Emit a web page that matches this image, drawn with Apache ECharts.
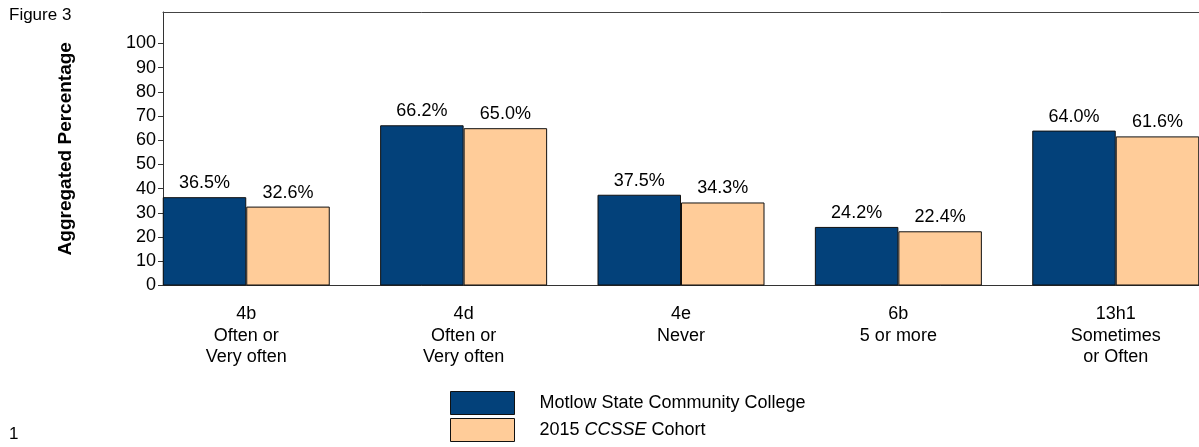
<!DOCTYPE html>
<html>
<head>
<meta charset="utf-8">
<script src="https://cdn.jsdelivr.net/npm/echarts@6/dist/echarts.min.js"></script>
<style>
  html, body { margin: 0; padding: 0; background: #fff; }
  #chart { width: 1199px; height: 447px; }
</style>
</head>
<body>
<div id="chart"></div>
<script>
const categories = ['4b\nOften or\nVery often', '4d\nOften or\nVery often', '4e\nNever', '6b\n5 or more', '13h1\nSometimes\nor Often'];
const collegeValues = [36.5, 66.2, 37.5, 24.2, 64.0];
const cohortValues = [32.6, 65.0, 34.3, 22.4, 61.6];
const yTickValues = [0, 10, 20, 30, 40, 50, 60, 70, 80, 90, 100];
const seriesNames = ['Motlow State Community College', '2015 CCSSE Cohort'];

const FONT = 'Liberation Sans, Arial, sans-serif';
const chart = echarts.init(document.getElementById('chart'));

const toPoints = vals => vals.map((v, i) => [i, v]);
const xIdx = categories.map((_, i) => i);

const option = {
  animation: false,
  backgroundColor: '#ffffff',
  textStyle: { fontFamily: FONT, color: '#000' },
  title: [
    { text: 'Figure 3', left: 4, top: 2, textStyle: { fontFamily: FONT, fontSize: 17, fontWeight: 'normal', color: '#000' } },
    { text: '1', left: 4, top: 421, textStyle: { fontFamily: FONT, fontSize: 17, fontWeight: 'normal', color: '#000' } }
  ],
  grid: { left: 163, right: -4, top: 12, height: 273.5 },
  xAxis: [
    {
      type: 'value', min: -0.383, max: 4.383, position: 'bottom',
      splitLine: { show: false },
      axisTick: { show: false },
      axisLine: { show: true, onZero: false, lineStyle: { color: '#333', width: 1 } },
      axisLabel: {
        customValues: xIdx,
        formatter: v => categories[Math.round(v)] || '',
        fontFamily: FONT, fontSize: 18, color: '#000', lineHeight: 21.5, margin: 18
      }
    },
    {
      type: 'value', min: -0.383, max: 4.383, position: 'top',
      splitLine: { show: false }, axisTick: { show: false }, axisLabel: { show: false },
      axisLine: { show: true, onZero: false, lineStyle: { color: '#444', width: 1 } }
    }
  ],
  yAxis: {
    type: 'value', min: 0, max: 113,
    name: 'Aggregated Percentage', nameLocation: 'middle', nameGap: 88,
    nameTextStyle: { fontFamily: FONT, fontSize: 19, fontWeight: 'bold', color: '#000' },
    splitLine: { show: false },
    axisLine: { show: true, onZero: false, lineStyle: { color: '#333', width: 1 } },
    axisTick: { show: true, customValues: yTickValues, length: 5, lineStyle: { color: '#333' } },
    axisLabel: { customValues: yTickValues, fontFamily: FONT, fontSize: 18, color: '#000', margin: 7 }
  },
  legend: {
    orient: 'vertical', left: 450, top: 391, itemWidth: 64, itemHeight: 23, itemGap: 3,
    padding: 0,
    icon: 'rect',
    data: seriesNames,
    itemStyle: { borderWidth: 1, borderColor: '#111' },
    formatter: n => n === '2015 CCSSE Cohort' ? '{n|2015 }{i|CCSSE}{n| Cohort}' : n,
    textStyle: {
      fontFamily: FONT, fontSize: 18, color: '#000', padding: [0, 0, 0, 20],
      rich: {
        n: { fontFamily: FONT, fontSize: 18, fontStyle: 'normal', color: '#000' },
        i: { fontFamily: FONT, fontSize: 18, fontStyle: 'italic', color: '#000' }
      }
    }
  },
  series: [
    {
      name: seriesNames[0], type: 'bar', data: toPoints(collegeValues),
      barWidth: 83.5, barGap: '0%',
      itemStyle: { color: '#03417A', borderColor: '#111', borderWidth: 1 },
      label: { show: true, position: 'top', distance: 5, formatter: p => p.value[1].toFixed(1) + '%', fontFamily: FONT, fontSize: 18, color: '#000' }
    },
    {
      name: seriesNames[1], type: 'bar', data: toPoints(cohortValues),
      barWidth: 83.5, barGap: '0%',
      itemStyle: { color: '#FFCC99', borderColor: '#111', borderWidth: 1 },
      label: { show: true, position: 'top', distance: 5, formatter: p => p.value[1].toFixed(1) + '%', fontFamily: FONT, fontSize: 18, color: '#000' }
    }
  ]
};
chart.setOption(option);
</script>
</body>
</html>
